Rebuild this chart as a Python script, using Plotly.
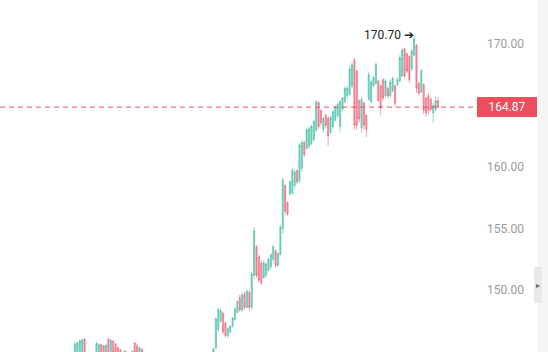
import plotly.graph_objects as go

# OHLC data (oldest -> newest)
opens = [
    144.50, 144.80, 144.90, 144.85, 146.00, 144.60, 144.10, 143.90, 144.40, 144.70,
    144.80, 145.55, 145.45, 144.60, 146.00, 144.80, 145.85, 145.60, 145.30, 145.15,
    144.40, 145.05, 144.70, 144.30, 144.70, 145.70, 145.45, 144.70, 145.20, 144.60,
    144.10, 143.70, 143.30, 143.80, 143.40, 142.90, 142.50, 143.00, 143.30, 142.80,
    142.30, 142.70, 143.10, 142.60, 143.20, 143.60, 143.10, 143.70, 144.00, 143.50,
    143.10, 143.60, 144.00, 144.30, 143.80, 144.30, 144.60, 144.20,
    144.60, 145.30, 146.80, 147.50, 148.10, 147.30, 146.30, 146.60, 147.05, 147.60,
    148.20, 149.40, 148.40, 149.70, 148.60, 149.80, 148.60, 151.20, 153.50, 152.70,
    152.20, 151.00, 151.20, 151.60, 151.90, 152.50, 153.20, 152.00, 152.90, 155.00,
    158.50, 157.10, 157.80, 157.90, 158.50, 159.70, 158.90, 159.90, 162.00, 161.50,
    161.70, 161.90, 162.20, 163.00, 165.25, 164.60, 163.10, 164.20, 164.00, 162.80,
    163.30, 163.80, 164.20, 163.30, 164.70, 165.30, 165.80, 165.90, 166.60, 168.70,
    167.80, 165.40, 163.20, 165.20, 164.20, 165.50, 165.30, 166.60, 166.80, 167.00,
    166.60, 167.10, 165.80, 166.40, 165.80, 166.20, 166.60, 166.70, 167.00, 167.40,
    169.60, 169.20, 169.00, 168.00, 169.10, 169.90, 166.80, 166.10, 166.70, 165.60,
    165.80, 165.50, 164.40, 164.70, 165.40,
]
highs = [
    145.75, 145.80, 145.95, 146.02, 146.10, 144.80, 144.50, 144.60, 144.85, 145.77,
    145.69, 145.61, 145.53, 145.60, 146.10, 146.02, 145.93, 145.69, 145.40, 145.20,
    145.00, 145.12, 144.90, 144.85, 145.10, 145.77, 145.60, 145.40, 145.25, 144.80,
    144.30, 143.90, 143.90, 144.00, 143.60, 143.10, 143.20, 143.50, 143.40, 143.00,
    142.90, 143.30, 143.20, 143.40, 143.80, 143.70, 143.90, 144.20, 144.10, 143.70,
    143.80, 144.20, 144.50, 144.40, 144.50, 144.80, 144.70, 144.80,
    145.28, 147.80, 148.54, 148.50, 148.20, 147.45, 147.00, 147.15, 147.80, 148.60,
    149.20, 149.60, 149.80, 149.90, 150.05, 150.00, 151.50, 155.12, 153.66, 152.85,
    152.44, 152.40, 152.25, 152.60, 153.00, 153.66, 153.30, 153.10, 155.30, 159.10,
    158.60, 157.20, 158.94, 159.90, 159.80, 159.80, 161.95, 162.20, 162.10, 163.20,
    163.30, 163.45, 163.82, 165.45, 165.30, 164.70, 164.10, 164.30, 164.10, 164.20,
    164.60, 165.00, 165.25, 165.45, 165.70, 166.55, 166.55, 168.20, 168.50, 168.86,
    167.90, 165.50, 165.70, 165.30, 164.30, 167.70, 167.10, 167.40, 168.50, 167.10,
    166.70, 167.20, 167.20, 166.50, 167.10, 167.40, 166.70, 167.30, 169.10, 169.70,
    169.70, 169.30, 169.10, 169.60, 170.70, 170.00, 166.90, 168.00, 166.80, 165.70,
    166.00, 165.70, 165.20, 165.70, 165.69,
]
lows = [
    144.30, 144.60, 144.70, 144.70, 144.40, 143.90, 143.70, 143.70, 144.10, 144.50,
    144.60, 144.50, 144.40, 144.40, 144.50, 144.60, 144.60, 144.50, 144.30, 144.20,
    144.20, 144.30, 144.10, 144.10, 144.50, 144.60, 144.50, 144.50, 144.40, 143.90,
    143.50, 143.10, 143.10, 143.20, 142.70, 142.30, 142.30, 142.80, 142.60, 142.10,
    142.10, 142.50, 142.40, 142.40, 143.00, 142.90, 142.90, 143.50, 143.30, 142.90,
    142.90, 143.40, 143.80, 143.60, 143.60, 144.10, 144.00, 144.00,
    144.40, 145.20, 146.60, 147.30, 146.40, 146.10, 146.10, 146.45, 146.95, 147.50,
    148.10, 148.20, 148.20, 148.40, 148.50, 148.30, 148.40, 150.90, 151.00, 150.60,
    150.40, 150.90, 151.00, 151.50, 151.70, 152.30, 151.80, 151.90, 152.80, 154.60,
    156.10, 156.00, 157.70, 157.70, 158.20, 158.60, 158.70, 159.60, 160.80, 161.40,
    161.50, 161.80, 162.10, 162.80, 163.10, 163.40, 162.80, 163.20, 161.70, 162.70,
    163.10, 163.70, 164.00, 162.80, 164.50, 165.20, 165.60, 165.80, 166.40, 163.00,
    163.00, 163.60, 162.80, 163.00, 162.40, 165.40, 165.20, 166.50, 166.70, 165.30,
    164.20, 165.40, 165.70, 165.60, 165.60, 166.10, 164.90, 166.60, 166.90, 167.30,
    167.20, 167.60, 166.80, 167.80, 169.00, 166.00, 165.80, 166.00, 164.30, 164.10,
    164.30, 164.50, 163.58, 164.50, 164.80,
]
closes = [
    145.62, 145.70, 145.85, 145.95, 144.60, 144.10, 143.90, 144.40, 144.70, 145.65,
    145.55, 144.70, 144.60, 145.50, 144.80, 145.90, 144.90, 144.70, 144.50, 144.40,
    144.90, 144.50, 144.30, 144.70, 145.00, 144.90, 144.70, 145.30, 144.60, 144.10,
    143.70, 143.30, 143.80, 143.40, 142.90, 142.50, 143.00, 143.30, 142.80, 142.30,
    142.70, 143.10, 142.60, 143.20, 143.60, 143.10, 143.70, 144.00, 143.50, 143.10,
    143.60, 144.00, 144.30, 143.80, 144.30, 144.60, 144.20, 144.60,
    145.20, 147.65, 148.40, 148.30, 146.60, 146.30, 146.85, 147.05, 147.70, 148.45,
    149.05, 148.40, 149.60, 148.60, 149.90, 148.60, 151.30, 154.80, 151.20, 150.80,
    150.60, 152.20, 152.10, 152.50, 152.85, 153.50, 152.00, 152.95, 155.10, 158.90,
    156.40, 156.20, 158.80, 159.70, 159.60, 158.80, 161.80, 162.00, 161.00, 163.00,
    163.10, 163.30, 163.70, 165.30, 163.30, 163.60, 163.95, 163.40, 162.50, 164.00,
    164.50, 164.90, 165.10, 165.30, 165.60, 166.40, 166.40, 168.00, 168.30, 163.40,
    163.40, 163.90, 165.50, 163.40, 163.10, 167.50, 166.90, 167.30, 168.30, 165.40,
    164.80, 165.60, 167.00, 165.80, 166.90, 167.20, 165.20, 167.10, 168.90, 169.50,
    167.40, 167.80, 167.10, 169.40, 170.40, 166.40, 166.00, 167.80, 164.60, 164.40,
    164.60, 164.70, 165.00, 165.40, 164.87,
]
x_idx = list(range(len(closes)))
y_ticks = [150, 155, 160, 165, 170]
y_tick_text = ["150.00", "155.00", "160.00", "165.00", "170.00"]
last_price = closes[-1]
peak_high = max(highs)
peak_idx = highs.index(peak_high)

GREEN = "rgba(38,180,150,0.5)"
RED = "rgba(236,70,95,0.5)"

fig = go.Figure()
fig.add_trace(go.Candlestick(
    x=x_idx, open=opens, high=highs, low=lows, close=closes,
    increasing=dict(line=dict(color=GREEN, width=1), fillcolor=GREEN),
    decreasing=dict(line=dict(color=RED, width=1), fillcolor=RED),
    whiskerwidth=0, hoverinfo="skip", showlegend=False,
))

W, H = 548, 352
plot_right = 477
n = len(closes)
spacing = (438 - 75) / (n - 1)
x0 = -75 / spacing
x1 = (plot_right - 75) / spacing

fig.update_layout(
    width=W, height=H,
    margin=dict(l=0, r=W - plot_right, t=0, b=0),
    paper_bgcolor="white", plot_bgcolor="white",
    font=dict(family="Roboto, Arial, sans-serif"),
    xaxis=dict(range=[x0, x1], visible=False, rangeslider=dict(visible=False),
               showgrid=False, zeroline=False),
    yaxis=dict(range=[144.96, 173.58], side="right", tickvals=y_ticks,
               ticktext=y_tick_text, showgrid=False, zeroline=False,
               showline=False, ticks="", ticklabelstandoff=9,
               tickfont=dict(size=12, color="#9a9a9a")),
    shapes=[
        dict(type="line", xref="paper", yref="y", x0=0, x1=1,
             y0=last_price, y1=last_price,
             line=dict(color="#e8505f", width=1, dash="5px,4px")),
        dict(type="rect", xref="paper", yref="paper",
             x0=538 / plot_right, x1=548 / plot_right, y0=0, y1=1,
             fillcolor="#f5f5f5", line=dict(width=0), layer="below"),
        dict(type="rect", xref="paper", yref="paper",
             x0=534 / plot_right, x1=542 / plot_right,
             y0=(H - 303) / H, y1=(H - 267) / H,
             fillcolor="#e9e9e9", line=dict(width=0)),
    ],
    annotations=[
        dict(xref="paper", yref="y", x=1, y=last_price, xanchor="left",
             yanchor="middle", text=f"{last_price:.2f}", showarrow=False,
             width=60, height=20, borderpad=0, borderwidth=0,
             bgcolor="#ec4e5e", align="center",
             font=dict(size=12, color="white")),
        dict(xref="x", yref="y", x=peak_idx, y=peak_high, xanchor="right",
             yanchor="middle", xshift=2, text=f"{peak_high:.2f} ➔",
             showarrow=False, font=dict(size=12, color="#222222")),
        dict(xref="paper", yref="paper", x=538 / plot_right,
             y=(H - 285) / H, xanchor="center", yanchor="middle",
             text="▸", showarrow=False, font=dict(size=8, color="#666666")),
    ],
)

fig.write_html("out.html")
